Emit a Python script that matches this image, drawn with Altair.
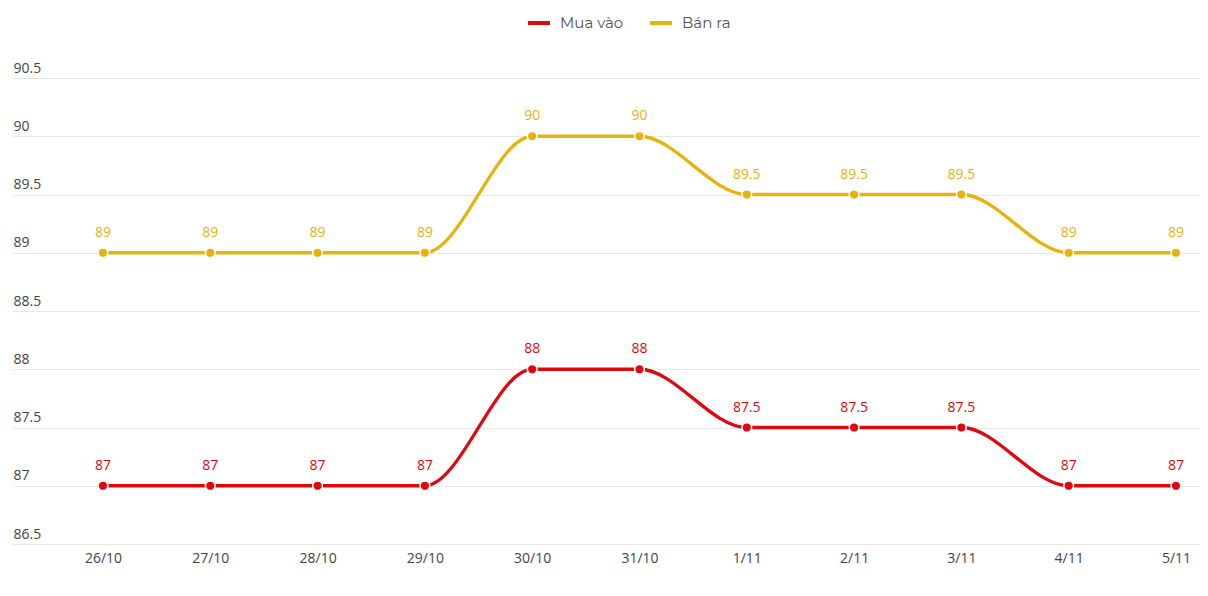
import altair as alt
import pandas as pd

dates = ["26/10", "27/10", "28/10", "29/10", "30/10", "31/10", "1/11", "2/11", "3/11", "4/11", "5/11"]
mua_vao = [87, 87, 87, 87, 88, 88, 87.5, 87.5, 87.5, 87, 87]
ban_ra = [89, 89, 89, 89, 90, 90, 89.5, 89.5, 89.5, 89, 89]
series_names = ["Mua vào", "Bán ra"]
colors = ["#e0080f", "#e6b20e"]
y_ticks = [86.5, 87, 87.5, 88, 88.5, 89, 89.5, 90, 90.5]

rows = []
for i, d in enumerate(dates):
    rows.append({"idx": i, "date": d, "series": series_names[0], "value": mua_vao[i],
                 "label": f"{mua_vao[i]:g}"})
    rows.append({"idx": i, "date": d, "series": series_names[1], "value": ban_ra[i],
                 "label": f"{ban_ra[i]:g}"})
df = pd.DataFrame(rows)

label_expr = "[" + ",".join(f"'{d}'" for d in dates) + "][datum.value]"

x = alt.X("idx:Q",
          scale=alt.Scale(domain=[-0.848, 10.224], nice=False, zero=False),
          axis=alt.Axis(values=list(range(len(dates))), labelExpr=label_expr, grid=False,
                        domain=False, ticks=False, labelPadding=7, title=None,
                        labelFont="Open Sans", labelFontSize=14, labelColor="#444"))
y = alt.Y("value:Q",
          scale=alt.Scale(domain=[86.5, 90.5], nice=False, zero=False),
          axis=alt.Axis(values=y_ticks, format="~g", grid=True, gridColor="#e8e8e8", domain=False,
                        ticks=False, tickSize=0, labelAlign="left", labelBaseline="bottom",
                        labelOffset=-3, labelPadding=-1, title=None,
                        labelFont="Open Sans", labelFontSize=14, labelColor="#444"))
color_scale = alt.Scale(domain=series_names, range=colors)
color = alt.Color("series:N", scale=color_scale,
                  legend=alt.Legend(orient="none", legendX=514, legendY=-68, direction="horizontal",
                                    title=None, symbolType="stroke", symbolStrokeWidth=4,
                                    symbolSize=480, labelFont="Montserrat, Open Sans",
                                    labelFontSize=15, labelColor="#555", columnPadding=18,
                                    labelOffset=8))

base = alt.Chart(df)
lines = base.mark_line(interpolate="monotone", strokeWidth=3.3).encode(x=x, y=y, color=color)
points = base.mark_point(filled=True, size=95, stroke="white", strokeWidth=1.5, opacity=1,
                         shape="circle").encode(
    x=x, y=y, color=alt.Color("series:N", scale=color_scale, legend=None))
labels = base.mark_text(dy=-20, font="Open Sans", fontSize=14, fontWeight="normal").encode(
    x=x, y=y, text="label:N",
    color=alt.Color("series:N", scale=color_scale, legend=None))

chart = (lines + points + labels).properties(
    width=1188, height=466,
    autosize=alt.AutoSizeParams(type="none"),
    padding={"left": 4, "top": 70, "right": 0, "bottom": 36},
).configure(background="white").configure_view(stroke=None, strokeWidth=0)

chart.save("out.html", embed_options={"renderer": "svg", "actions": False})
